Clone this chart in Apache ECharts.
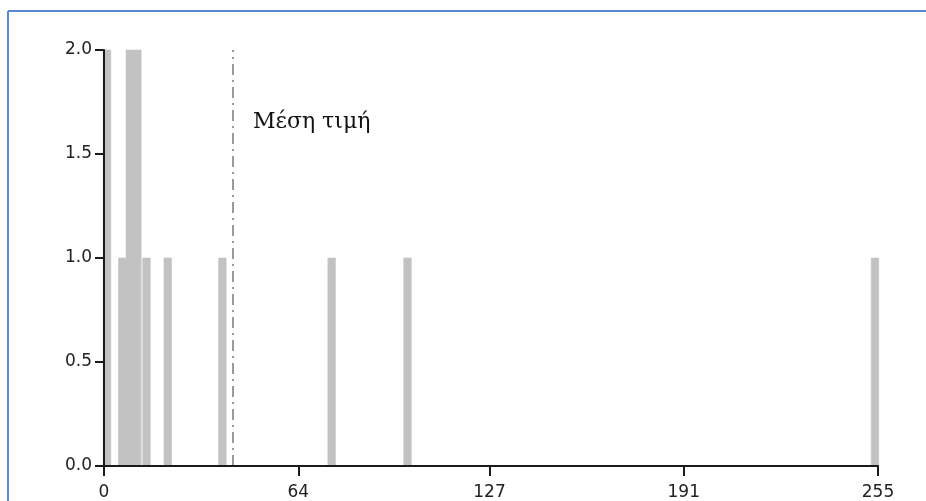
<!DOCTYPE html>
<html>
<head>
<meta charset="utf-8">
<script src="https://cdn.jsdelivr.net/npm/echarts@6/dist/echarts.min.js"></script>
<style>
  html, body { margin: 0; padding: 0; background: #ffffff; }
  #chart { width: 926px; height: 501px; }
</style>
</head>
<body>
<div id="chart"></div>
<script>
// Histogram of intensity values (0–255) with the mean marked
const binValues = [1, 6, 8.5, 11, 14, 21, 39, 75, 100, 254];
const binCounts = [2, 1, 2, 2, 1, 1, 1, 1, 1, 1];
const xTickValues = [0, 64, 127, 191, 255];
const yTickValues = [0, 0.5, 1, 1.5, 2];
const meanLabel = 'Μέση τιμή';

// weighted mean of the histogram
let total = 0, weighted = 0;
binValues.forEach((v, i) => { total += binCounts[i]; weighted += v * binCounts[i]; });
const meanValue = weighted / total;

const chart = echarts.init(document.getElementById('chart'), null, { renderer: 'canvas' });

const axisColor = '#1a1a1a';
const barColor = '#c2c2c2';
const labelFont = { color: '#222', fontFamily: 'DejaVu Sans', fontSize: 17 };
const BAR_PX = 7.5;

// each bin is a fixed-width column centred on its value
function renderBin(params, api) {
  const base = api.coord([api.value(0), 0]);
  const top = api.coord([api.value(0), api.value(1)]);
  return {
    type: 'rect',
    shape: { x: base[0] - BAR_PX / 2, y: top[1], width: BAR_PX, height: base[1] - top[1] },
    // thin stroke in the fill colour closes seams between adjacent bins
    style: { fill: barColor, stroke: barColor, lineWidth: 0.6 }
  };
}

chart.setOption({
  animation: false,
  backgroundColor: '#ffffff',
  grid: { left: 104, right: 48, top: 50, bottom: 35, containLabel: false, outerBoundsMode: 'none' },
  xAxis: {
    type: 'value',
    min: 0,
    max: 255,
    z: 10,
    splitLine: { show: false },
    axisLine: { show: true, onZero: false, lineStyle: { color: axisColor, width: 2 } },
    axisTick: { show: true, inside: false, length: 10, customValues: xTickValues, lineStyle: { color: axisColor, width: 2 } },
    axisLabel: Object.assign({ customValues: xTickValues, margin: 18 }, labelFont)
  },
  yAxis: {
    type: 'value',
    min: 0,
    max: 2,
    interval: 0.5,
    z: 10,
    splitLine: { show: false },
    axisLine: { show: true, onZero: false, lineStyle: { color: axisColor, width: 2 } },
    axisTick: { show: true, inside: false, length: 9, lineStyle: { color: axisColor, width: 2 } },
    axisLabel: Object.assign({ margin: 12, formatter: v => v.toFixed(1) }, labelFont)
  },
  series: [{
    type: 'custom',
    renderItem: renderBin,
    encode: { x: 0, y: 1 },
    data: binValues.map((v, i) => [v, binCounts[i]]),
    markLine: {
      silent: true,
      symbol: ['none', 'none'],
      label: { show: false },
      lineStyle: { color: '#7a7a7a', width: 1.5, type: [11, 5, 2, 5] },
      data: [[{ coord: [meanValue, 0] }, { coord: [meanValue, 2] }]]
    }
  }],
  graphic: [
    // frame lines along the top and left edges
    { type: 'line', shape: { x1: 8, y1: 11, x2: 926, y2: 11 }, style: { stroke: '#5b8ad0', lineWidth: 2 } },
    { type: 'line', shape: { x1: 8, y1: 11, x2: 8, y2: 501 }, style: { stroke: '#5b8ad0', lineWidth: 2 } },
    { type: 'text', left: 253, top: 111, style: { text: meanLabel, fill: '#111', font: '22px "DejaVu Serif"' } }
  ]
});
</script>
</body>
</html>
